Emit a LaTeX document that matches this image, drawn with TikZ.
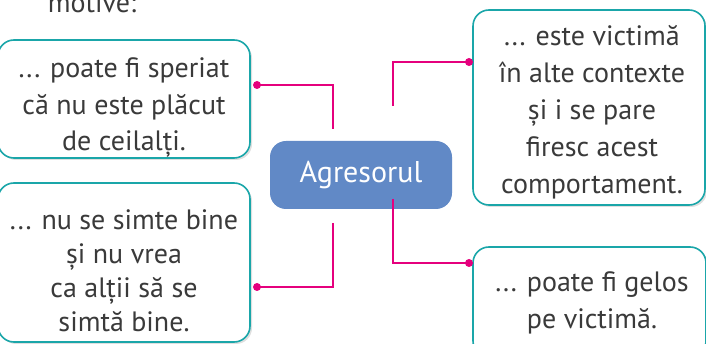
\documentclass[tikz,border=0pt]{standalone}
\usepackage{fontspec}
\setmainfont{PT Sans}
\usetikzlibrary{shadows}
\definecolor{teal}{HTML}{1AA6A9}
\definecolor{pinkc}{HTML}{E5007D}
\definecolor{bluec}{HTML}{6189C6}
\definecolor{txt}{HTML}{3A3A3A}
\tikzset{
  card/.style={draw=teal, line width=1.6pt, rounded corners=16pt, fill=white,
    drop shadow={opacity=0.25, shadow xshift=2pt, shadow yshift=-2pt}},
  cardtext/.style={text=txt, align=center, font=\fontsize{28}{36.5}\selectfont, inner sep=0pt},
  link/.style={draw=pinkc, line width=1.8pt},
  dot/.style={circle, fill=pinkc, inner sep=0pt, minimum size=8pt},
}
\begin{document}
\begin{tikzpicture}[x=1pt,y=-1pt]
\useasboundingbox (0,0) rectangle (706,344);
% cards
\node[card, minimum width=252pt, minimum height=118pt] (tl) at (124,99) {};
\node[card, minimum width=252pt, minimum height=159pt] (bl) at (124,262.5) {};
\node[card, minimum width=232pt, minimum height=195pt] (tr) at (589,107.5) {};
\node[card, minimum width=233pt, minimum height=110pt] (br) at (589.5,302) {};
% texts
\node[cardtext] (tlt) at (124,108) {... poate fi speriat\\că nu este plăcut\\de ceilalți.};
\node[cardtext, font=\fontsize{28}{34}\selectfont] (blt) at (124,271) {... nu se simte bine\\și nu vrea\\ca alții să se\\simtă bine.};
\node[cardtext, font=\fontsize{28}{37}\selectfont] (trt) at (592,112) {... este victimă\\în alte contexte\\și i se pare\\firesc acest\\comportament.};
\node[cardtext] (brt) at (592,303) {... poate fi gelos\\pe victimă.};
\node[text=txt, font=\fontsize{28}{30}\selectfont, inner sep=0pt, anchor=base] (mot) at (92,13) {motive:};
% center
\node[fill=bluec, rounded corners=16pt, minimum width=182pt, minimum height=68pt,
  text=white, font=\fontsize{30}{32}\selectfont] (ag) at (361,175) {Agresorul};
% connectors
\node[dot] (d1) at (257,85) {};
\node[dot] (d2) at (257,287) {};
\node[dot] (d3) at (469,62) {};
\node[dot] (d4) at (469,263) {};
\coordinate (e1) at (333,129);
\coordinate (e2) at (333,223);
\coordinate (e3) at (393,106);
\coordinate (e4) at (393,199);
\draw[link] (e1) |- (d1.center);
\draw[link] (e2) |- (d2.center);
\draw[link] (e3) |- (d3.center);
\draw[link] (e4) |- (d4.center);
\end{tikzpicture}
\end{document}
